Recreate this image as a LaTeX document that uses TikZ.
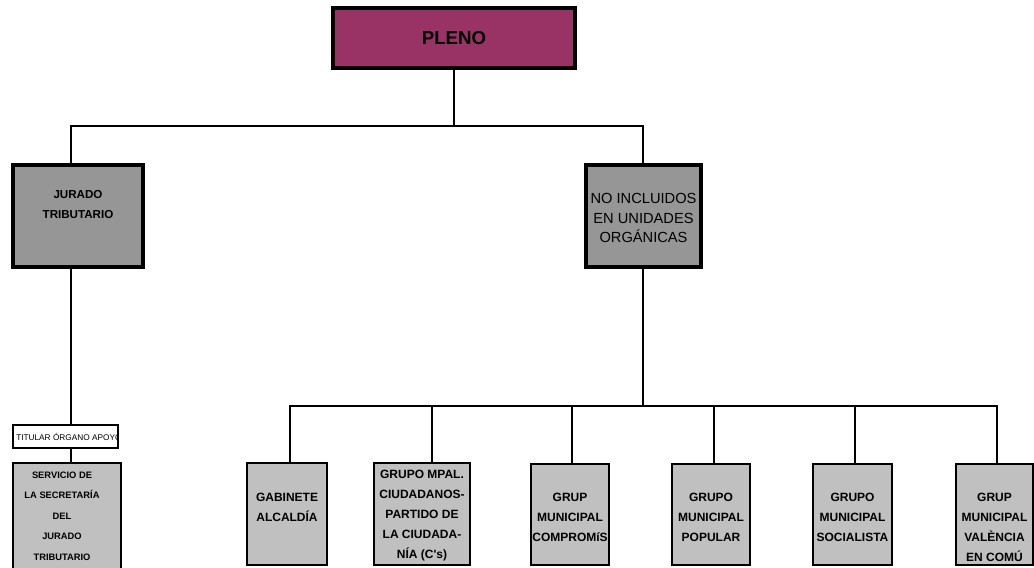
\documentclass[tikz,border=0pt]{standalone}
\usepackage{fontspec}
\setmainfont{Liberation Sans}
\usetikzlibrary{fit}
\definecolor{plum}{HTML}{993366}
\definecolor{midgray}{HTML}{969696}
\definecolor{ltgray}{HTML}{C0C0C0}
\begin{document}
\begin{tikzpicture}[x=0.75pt,y=-0.75pt, line join=miter,
  conn/.style={line width=2.2pt},
  topbox/.style={draw, line width=2.6pt, inner sep=0pt},
  botbox/.style={draw, line width=1.8pt, fill=ltgray, inner sep=0pt},
  lbl/.style={align=center, inner sep=0pt, font=\bfseries\fontsize{9}{15}\selectfont}]
\clip (0,0) rectangle (1034,567);
\fill[white] (0,0) rectangle (1034,567);

% boxes
\node[topbox, fill=plum, fit={(333,8)(575,68)}] (pleno) {};
\node[font=\bfseries\fontsize{14}{17}\selectfont, inner sep=0pt] (plenot) at (454,38) {PLENO};

\node[topbox, fill=midgray, fit={(13,165)(143,267)}] (jur) {};
\node[lbl, font=\bfseries\fontsize{8.7}{15}\selectfont] (jurt) at (78,205) {JURADO\\TRIBUTARIO};

\node[topbox, fill=midgray, fit={(586,165)(701,267)}] (noinc) {};
\node[lbl, font=\fontsize{11}{14.6}\selectfont] (noinct) at (643.5,218) {NO INCLUIDOS\\EN UNIDADES\\ORGÁNICAS};

\node[draw, line width=1.8pt, fill=white, inner sep=0pt, fit={(13,425)(118,448)}] (tit) {};
\begin{scope}
  \clip ([shift={(1.5,-1.5)}]tit.south west) rectangle ([shift={(-1.5,1.5)}]tit.north east);
  \node[anchor=west, inner sep=0pt, font=\fontsize{6.2}{7}\selectfont] (titt) at (16,436.5) {TITULAR ÓRGANO APOYO};
\end{scope}

\node[botbox, fit={(13,463)(121,580)}] (serv) {};
\node[lbl, font=\bfseries\fontsize{7}{15.4}\selectfont] (servt) at (62,516) {SERVICIO DE\\LA SECRETARÍA\\DEL\\JURADO\\TRIBUTARIO};

\node[botbox, fit={(247,463)(327,565)}] (gab) {};
\node[lbl] (gabt) at (287,507.5) {GABINETE\\ALCALDÍA};
\node[botbox, fit={(374,463)(470,565)}] (mpal) {};
\node[lbl] (mpalt) at (422,515.5) {GRUPO MPAL.\\CIUDADANOS-\\PARTIDO DE\\LA CIUDADA-\\NÍA (C\textquotesingle s)};
\node[botbox, fit={(531,464)(609,565)}] (comp) {};
\node[lbl] (compt) at (570,517) {GRUP\\MUNICIPAL\\COMPROMíS};
\node[botbox, fit={(672,464)(750,565)}] (pop) {};
\node[lbl] (popt) at (711,517) {GRUPO\\MUNICIPAL\\POPULAR};
\node[botbox, fit={(813,464)(892,565)}] (soc) {};
\node[lbl] (soct) at (852.5,517) {GRUPO\\MUNICIPAL\\SOCIALISTA};
\node[botbox, fit={(956,464)(1033,565)}] (val) {};
\node[lbl] (valt) at (994.5,527) {GRUP\\MUNICIPAL\\VALÈNCIA\\EN COMÚ};

% connectors
\coordinate (tbl) at (71,126);
\coordinate (tbr) at (643,126);
\draw[conn] (pleno.south) -- (pleno.south |- tbl);
\draw[conn] (tbl |- jur.north) -- (tbl) -- (tbr) -- (tbr |- noinc.north);
\draw[conn] (tbl |- jur.south) -- (tbl |- tit.north);
\draw[conn] (tbl |- tit.south) -- (tbl |- serv.north);

\coordinate (bb) at (643,406);
\coordinate (b1) at (290,406);
\coordinate (b2) at (432,406);
\coordinate (b3) at (572,406);
\coordinate (b4) at (714,406);
\coordinate (b5) at (855,406);
\coordinate (b6) at (997,406);
\draw[conn] (bb |- noinc.south) -- (bb);
\draw[conn] (b1 |- gab.north) -- (b1) -- (b6) -- (b6 |- val.north);
\draw[conn] (b2) -- (b2 |- mpal.north);
\draw[conn] (b3) -- (b3 |- comp.north);
\draw[conn] (b4) -- (b4 |- pop.north);
\draw[conn] (b5) -- (b5 |- soc.north);
\end{tikzpicture}
\end{document}
